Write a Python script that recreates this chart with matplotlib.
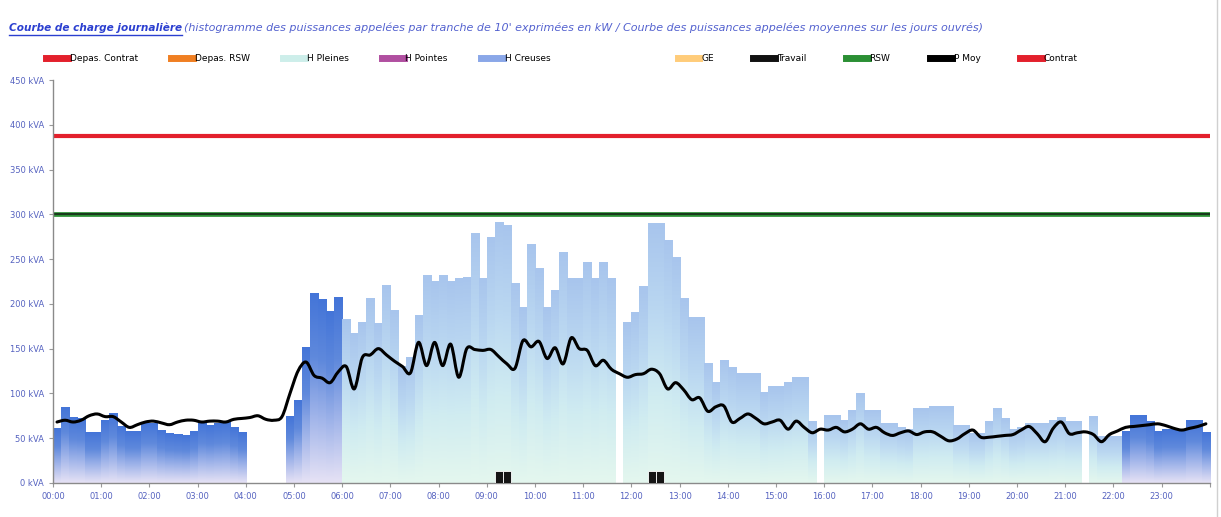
import numpy as np
import matplotlib.pyplot as plt
from matplotlib.colors import LinearSegmentedColormap
from matplotlib.path import Path
from matplotlib.patches import PathPatch
from matplotlib.lines import Line2D

plt.rcParams['font.family'] = ['DejaVu Sans']

# puissance appelee par tranche de 10 min (kVA), 0 = pas de mesure
puissance = [61, 84, 73, 72, 56, 56, 70, 78, 63, 58, 57, 66, 66, 59, 55, 54, 53, 57, 66, 64, 66, 68, 62, 56,
             0, 0, 0, 0, 0,
             74, 92, 151, 212, 205, 192, 207,
             183, 167, 179, 206, 178, 221, 193, 130, 140, 187,
             232, 225, 232, 225, 228, 230, 279, 228, 274, 291, 288, 223, 196, 267, 240, 196, 215, 258, 228, 228,
             246, 228, 246, 229,
             0,
             179, 190, 220, 290, 290, 271, 252, 206, 185, 185, 133, 112, 137, 129, 122, 122, 122, 101, 108, 108,
             112, 118, 118, 69,
             0,
             75, 75, 70, 81, 100, 81, 81, 67, 66, 62, 60, 83, 83, 85, 85, 85, 64, 64, 55, 55, 69, 83, 72, 60, 62,
             66, 66, 66, 70, 73, 69, 69,
             0,
             74, 52, 52, 52, 57, 75, 75, 69, 57, 60, 60, 60, 70, 70, 56]

# puissance moyenne jours ouvres (kVA)
p_moy = [68, 70, 68, 70, 75, 77, 74, 74, 68, 62, 65, 68, 69, 67, 65, 68, 70, 70, 68, 69, 69, 68, 71, 72, 73,
         75, 71, 70, 74,
         100, 125, 135, 120, 117, 112, 124, 130,
         105, 140, 143, 150, 143, 136, 130, 123, 157, 131, 157, 131, 155, 118, 150, 149, 148, 149, 141, 133,
         128, 159, 152, 158, 139, 151, 133, 162, 150, 148, 131, 137, 127,
         122, 118, 121, 122, 127, 122, 105, 112, 104, 93, 95, 80, 85, 86, 68, 72, 77, 72, 66, 68, 70, 60, 69,
         62, 56, 60,
         59, 62, 57, 60, 66, 60, 62, 56, 53, 56, 58, 54, 57, 57, 52, 47, 49, 55, 59, 51, 51, 52, 53, 54, 59,
         63, 55, 46, 61, 68, 55, 56, 57, 54, 46, 54, 58, 62, 63, 64, 65, 66, 64, 61, 59, 61, 63, 66]

# tranches "Travail"
travail_idx = [55, 56, 74, 75]
travail_val = [13, 13, 13, 13]

hc_fin = 36     # heures creuses jusqu'a 06:00
hc_debut = 133  # heures creuses a partir de 22:10
contrat = 388
rsw = 300

heures = ['%02d:00' % h for h in range(24)]
yticks = list(range(0, 451, 50))

cm_hc = LinearSegmentedColormap.from_list('hc', ['#e6e2f5', '#a3b6ea', '#5f89dc', '#4475d8'])
cm_hp = LinearSegmentedColormap.from_list('hp', ['#e4f7ee', '#d0ecf1', '#bad7f1', '#a8c5ed'])

fig = plt.figure(figsize=(12.21, 5.17), dpi=100)
ax = fig.add_axes([0.0434, 0.066, 0.9475, 0.779])

x = np.arange(len(puissance)) / 6.0
grad = np.linspace(0, 1, 128).reshape(-1, 1)
bars = ax.bar(x, puissance, width=1 / 6, align='edge', color='none', linewidth=0)
for i, b in enumerate(bars):
    if b.get_height() <= 0:
        continue
    cmap = cm_hc if (i < hc_fin or i >= hc_debut) else cm_hp
    ax.imshow(grad, extent=[b.get_x(), b.get_x() + b.get_width(), 0, b.get_height()],
              origin='lower', cmap=cmap, aspect='auto', interpolation='bilinear', zorder=1)

# petites barres "Travail"
ax.bar(x[travail_idx], travail_val, width=1 / 6, align='edge', color='#151515',
       edgecolor='white', linewidth=0.6, zorder=3)

# lignes contrat / RSW
ax.axhline(contrat, color='#e3202c', lw=3, zorder=2)
ax.axhline(rsw, color='#2b8f34', lw=3.4, zorder=2)
ax.axhline(rsw, color='#111111', lw=1.3, alpha=0.75, zorder=2)

# courbe P Moy lissee (bezier comme Excel)
pts = np.column_stack([x + 1 / 12, p_moy])
n = len(pts)
verts = [pts[0]]
codes = [Path.MOVETO]
for i in range(n - 1):
    p0 = pts[max(i - 1, 0)]
    p1 = pts[i]
    p2 = pts[i + 1]
    p3 = pts[min(i + 2, n - 1)]
    verts += [p1 + (p2 - p0) / 6, p2 - (p3 - p1) / 6, p2]
    codes += [Path.CURVE4] * 3
ax.add_patch(PathPatch(Path(verts, codes), fill=False, edgecolor='black', lw=2.2,
                       capstyle='round', joinstyle='round', zorder=4))

ax.set_xlim(0, 24)
ax.set_ylim(0, 450)
ax.set_xticks(range(25))
ax.set_xticklabels(heures + [''])
ax.set_yticks(yticks)
ax.set_yticklabels(['%d kVA' % v for v in yticks])
ax.tick_params(colors='#999999', labelcolor='#5562c0', labelsize=6, length=3, width=0.8)
for s in ['top', 'right']:
    ax.spines[s].set_visible(False)
for s in ['left', 'bottom']:
    ax.spines[s].set_color('#8a8a8a')
    ax.spines[s].set_linewidth(1)

# legendes
h1 = [Line2D([], [], color='#e3202c', lw=5), Line2D([], [], color='#f07f22', lw=5),
      Line2D([], [], color='#cdeeea', lw=5), Line2D([], [], color='#b04fa0', lw=5),
      Line2D([], [], color='#8aa7e8', lw=5)]
l1 = ['Depas. Contrat', 'Depas. RSW', 'H Pleines', 'H Pointes', 'H Creuses']
h2 = [Line2D([], [], color='#ffcc7a', lw=5), Line2D([], [], color='#111111', lw=5),
      Line2D([], [], color='#2b8f34', lw=5), Line2D([], [], color='black', lw=5),
      Line2D([], [], color='#e3202c', lw=5)]
l2 = ['GE', 'Travail', 'RSW', 'P Moy', 'Contrat']
kw = dict(loc='center left', frameon=False, fontsize=6.5, handlelength=2.4,
          handletextpad=0.2, borderaxespad=0, borderpad=0)
fig.legend(h1, l1, bbox_to_anchor=(0.038, 0.886), ncol=5, columnspacing=3.7, **kw)
fig.legend(h2, l2, bbox_to_anchor=(0.555, 0.886), ncol=5, columnspacing=4.4, **kw)

# titre
t1 = fig.text(0.007, 0.94, 'Courbe de charge journalière', color='#2b3fd0', fontsize=7.6,
              fontweight='bold', style='italic', va='baseline')
fig.canvas.draw()
bb = t1.get_window_extent()
W, H = fig.get_size_inches() * fig.dpi
fig.add_artist(Line2D([bb.x0 / W, bb.x1 / W], [(bb.y0 - 2) / H] * 2, color='#2b3fd0', lw=1))
fig.text(bb.x1 / W + 0.002, 0.94,
         "(histogramme des puissances appelées par tranche de 10' exprimées en kW / "
         "Courbe des puissances appelées moyennes sur les jours ouvrés)",
         color='#5462cf', fontsize=8, style='italic', va='baseline')

fig.add_artist(Line2D([0.9965, 0.9965], [0, 1], color='#d0d0d0', lw=1))

fig.savefig('out.png', dpi=100)
